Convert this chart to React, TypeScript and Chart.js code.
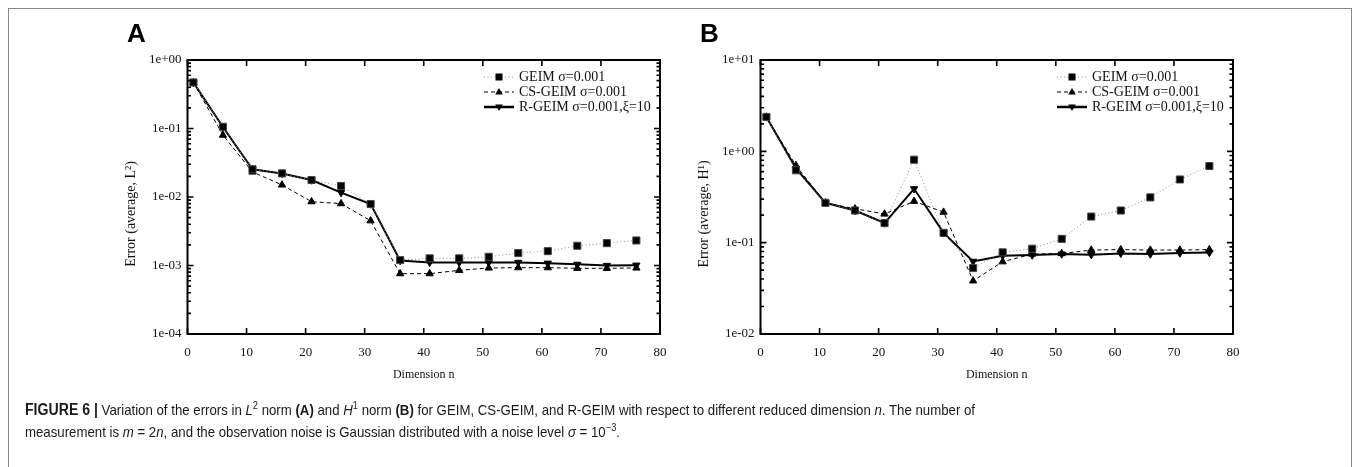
import React, { useEffect, useLayoutEffect, useRef } from 'react';
import { Chart, registerables } from 'chart.js';

Chart.register(...registerables);
Chart.defaults.font.family = "'Liberation Serif', 'Times New Roman', serif";

// ---------------- data ----------------
const nValues = [1, 6, 11, 16, 21, 26, 31, 36, 41, 46, 51, 56, 61, 66, 71, 76];

const geimL2 = [0.47, 0.106, 0.0254, 0.0221, 0.0177, 0.0145, 0.0079, 0.0012, 0.00127, 0.00127, 0.00134, 0.00152, 0.00162, 0.00194, 0.00212, 0.00232];
const csL2 = [0.47, 0.08, 0.0232, 0.015, 0.00855, 0.008, 0.0045, 0.00076, 0.00076, 0.00085, 0.00092, 0.00093, 0.00093, 0.00091, 0.00091, 0.00092];
const rL2 = [0.47, 0.105, 0.0254, 0.0221, 0.0177, 0.0116, 0.0079, 0.00118, 0.00111, 0.00111, 0.00111, 0.00111, 0.00108, 0.00104, 0.001, 0.00101];

const geimH1 = [2.38, 0.62, 0.273, 0.225, 0.164, 0.81, 0.128, 0.0527, 0.0783, 0.0859, 0.11, 0.193, 0.225, 0.313, 0.492, 0.69];
const csH1 = [2.38, 0.7, 0.273, 0.235, 0.206, 0.284, 0.216, 0.0382, 0.0618, 0.075, 0.076, 0.083, 0.084, 0.083, 0.083, 0.084];
const rH1 = [2.38, 0.65, 0.273, 0.225, 0.164, 0.389, 0.128, 0.0624, 0.072, 0.0731, 0.075, 0.0738, 0.0763, 0.075, 0.077, 0.078];

const seriesLabels = ['GEIM σ=0.001', 'CS-GEIM σ=0.001', 'R-GEIM σ=0.001,ξ=10'];
const xTitle = 'Dimension n';
const yTitleA = 'Error (average, L²)';
const yTitleB = 'Error (average, H¹)';
const xMin = 0;
const xMax = 80;
const xStep = 10;

// ---------------- helpers ----------------
const isPow10 = (v: number) => {
  const l = Math.log10(v);
  return Math.abs(l - Math.round(l)) < 1e-9;
};
const fmtPow = (v: number) => {
  const e = Math.round(Math.log10(v));
  const s = e < 0 ? '-' : '+';
  return `1e${s}${String(Math.abs(e)).padStart(2, '0')}`;
};

const styles = [
  { borderColor: '#8a8a8a', borderWidth: 1, borderDash: [1, 2.5], pointStyle: 'rect', pointRadius: 5, rotation: 0, pointBorderColor: '#444', pointBackgroundColor: '#000' },
  { borderColor: '#000', borderWidth: 1, borderDash: [4, 3], pointStyle: 'triangle', pointRadius: 4.2, rotation: 0, pointBorderColor: '#000', pointBackgroundColor: '#000' },
  { borderColor: '#000', borderWidth: 2, borderDash: [], pointStyle: 'triangle', pointRadius: 4.2, rotation: 180, pointBorderColor: '#000', pointBackgroundColor: '#000' },
];

function drawMarker(ctx: CanvasRenderingContext2D, kind: number, x: number, y: number) {
  ctx.beginPath();
  if (kind === 0) {
    ctx.rect(x - 3.5, y - 3.5, 7, 7);
  } else if (kind === 1) {
    ctx.moveTo(x, y - 4);
    ctx.lineTo(x + 3.8, y + 2.5);
    ctx.lineTo(x - 3.8, y + 2.5);
    ctx.closePath();
  } else {
    ctx.moveTo(x, y + 4);
    ctx.lineTo(x + 3.8, y - 2.5);
    ctx.lineTo(x - 3.8, y - 2.5);
    ctx.closePath();
  }
  ctx.fillStyle = '#000';
  ctx.fill();
}

const frameTicks = {
  id: 'frameTicks',
  afterDatasetsDraw(chart: any) {
    const { ctx, chartArea } = chart;
    const { left, right, top, bottom } = chartArea;
    const xs = chart.scales.x;
    const ys = chart.scales.y;
    ctx.save();
    ctx.strokeStyle = '#000';
    ctx.lineWidth = 1.6;
    ctx.setLineDash([]);
    ctx.beginPath();
    xs.ticks.forEach((t: any) => {
      const px = xs.getPixelForValue(t.value);
      ctx.moveTo(px, bottom);
      ctx.lineTo(px, bottom - 6);
      ctx.moveTo(px, top);
      ctx.lineTo(px, top + 6);
    });
    ys.ticks.forEach((t: any) => {
      const py = ys.getPixelForValue(t.value);
      const len = isPow10(t.value) ? 6 : 3.5;
      ctx.moveTo(left, py);
      ctx.lineTo(left + len, py);
      ctx.moveTo(right, py);
      ctx.lineTo(right - len, py);
    });
    ctx.stroke();
    ctx.lineWidth = 2;
    ctx.strokeRect(left, top, right - left, bottom - top);
    ctx.restore();
  },
  afterDraw(chart: any, _args: any, opts: any) {
    const { ctx, chartArea } = chart;
    const { left, right, top, bottom } = chartArea;
    const rows = [17, 32, 47];
    ctx.save();
    // y-axis title (drawn a bit below the axis centre, as in the figure)
    ctx.translate(left - 55.8, (top + bottom) / 2 + 17);
    ctx.rotate(-Math.PI / 2);
    ctx.fillStyle = '#111';
    ctx.font = "14px 'Liberation Serif', serif";
    ctx.textAlign = 'center';
    ctx.textBaseline = 'middle';
    ctx.fillText(opts.yTitle || '', 0, 0);
    ctx.restore();

    ctx.save();
    chart.data.datasets.forEach((ds: any, i: number) => {
      const st = styles[i];
      const y = top + rows[i];
      ctx.beginPath();
      ctx.strokeStyle = st.borderColor;
      ctx.lineWidth = i === 2 ? 2.5 : st.borderWidth;
      ctx.setLineDash(st.borderDash);
      ctx.moveTo(right - 176, y);
      ctx.lineTo(right - 146, y);
      ctx.stroke();
      ctx.setLineDash([]);
      drawMarker(ctx, i, right - 161, y);
      ctx.fillStyle = '#111';
      ctx.font = "14px 'Liberation Serif', serif";
      ctx.textBaseline = 'middle';
      ctx.textAlign = 'left';
      ctx.fillText(ds.label, right - 141, y + 0.5);
    });
    ctx.restore();
  },
};

function Panel({ left, yMin, yMax, series, yTitle }: { left: number; yMin: number; yMax: number; series: number[][]; yTitle: string }) {
  const ref = useRef<HTMLCanvasElement>(null);
  useEffect(() => {
    const chart = new Chart(ref.current as HTMLCanvasElement, {
      type: 'line',
      data: {
        datasets: series.map((vals, i) => ({
          label: seriesLabels[i],
          data: nValues.map((n, j) => ({ x: n, y: vals[j] })),
          borderColor: styles[i].borderColor,
          borderWidth: styles[i].borderWidth,
          borderDash: styles[i].borderDash,
          pointStyle: styles[i].pointStyle as any,
          pointRadius: styles[i].pointRadius,
          rotation: styles[i].rotation,
          pointBorderColor: styles[i].pointBorderColor,
          pointBackgroundColor: styles[i].pointBackgroundColor,
          pointBorderWidth: 1,
          fill: false,
          tension: 0,
        })),
      },
      options: {
        animation: false,
        responsive: false,
        devicePixelRatio: 1,
        events: [],
        layout: { padding: { top: 45, right: 25, left: 0, bottom: 0 } },
        plugins: { legend: { display: false }, tooltip: { enabled: false }, frameTicks: { yTitle } },
        scales: {
          x: {
            type: 'linear',
            min: xMin,
            max: xMax,
            grid: { display: false, drawTicks: false },
            border: { display: false },
            ticks: { stepSize: xStep, padding: 11, color: '#111', font: { size: 13 } },
            title: { display: true, text: xTitle, color: '#111', font: { size: 12 }, padding: { top: 0, bottom: 12.8 } },
            afterFit: (s: any) => { s.height = 61; },
          },
          y: {
            type: 'logarithmic',
            min: yMin,
            max: yMax,
            grid: { display: false, drawTicks: false },
            border: { display: false },
            afterBuildTicks: (s: any) => {
              const ticks: any[] = [];
              const e0 = Math.round(Math.log10(yMin));
              const e1 = Math.round(Math.log10(yMax));
              for (let e = e0; e <= e1; e++) {
                for (let m = 1; m <= 9; m++) {
                  if (e === e1 && m > 1) break;
                  const v = Number((m * Math.pow(10, e)).toPrecision(12));
                  ticks.push({ value: v, major: m === 1 });
                }
              }
              s.ticks = ticks;
            },
            ticks: {
              autoSkip: false,
              padding: 6,
              color: '#111',
              font: { size: 13 },
              callback: (v: any) => (isPow10(Number(v)) ? fmtPow(Number(v)) : ''),
            },
            title: { display: false },
            afterFit: (s: any) => { s.width = 92.5; },
          },
        },
      } as any,
      plugins: [frameTicks],
    });
    return () => chart.destroy();
  }, []);
  return (
    <canvas
      ref={ref}
      width={590}
      height={380}
      style={{ position: 'fixed', left, top: 15, width: 590, height: 380 }}
    />
  );
}

function Caption() {
  const wrap = useRef<HTMLDivElement>(null);
  const line1 = useRef<HTMLSpanElement>(null);
  useLayoutEffect(() => {
    if (!wrap.current || !line1.current) return;
    const w = line1.current.getBoundingClientRect().width;
    if (w > 0) wrap.current.style.transform = `scaleX(${950 / w})`;
  }, []);
  const sup: React.CSSProperties = { fontSize: '0.7em', verticalAlign: 'super', lineHeight: 0 };
  return (
    <div
      ref={wrap}
      style={{
        position: 'fixed',
        left: 25,
        top: 399,
        whiteSpace: 'nowrap',
        transformOrigin: 'left top',
        fontFamily: "'Liberation Sans Narrow', 'Arial Narrow', 'Liberation Sans', Arial, sans-serif",
        fontSize: 15,
        lineHeight: '22px',
        color: '#1a1a1a',
      }}
    >
      <span ref={line1} style={{ display: 'inline-block' }}>
        <b style={{ fontSize: 16 }}>FIGURE 6 |</b> Variation of the errors in <i>L</i>
        <span style={sup}>2</span> norm <b>(A)</b> and <i>H</i>
        <span style={sup}>1</span> norm <b>(B)</b> for GEIM, CS-GEIM, and R-GEIM with respect to different reduced dimension{' '}
        <i>n</i>. The number of
      </span>
      <br />
      <span style={{ display: 'inline-block' }}>
        measurement is <i>m</i> = 2<i>n</i>, and the observation noise is Gaussian distributed with a noise level <i>σ</i> = 10
        <span style={sup}>−3</span>.
      </span>
    </div>
  );
}

export default function App() {
  useEffect(() => {
    document.documentElement.style.overflow = 'hidden';
    document.body.style.overflow = 'hidden';
  }, []);
  const letter: React.CSSProperties = {
    position: 'fixed',
    top: 20,
    fontFamily: "'Liberation Sans', Arial, sans-serif",
    fontWeight: 'bold',
    fontSize: 26,
    lineHeight: 1,
    color: '#000',
  };
  return (
    <div>
      <div
        style={{
          position: 'fixed',
          left: 8,
          top: 8,
          width: 1344,
          height: 470,
          border: '1px solid #888',
          borderBottom: 'none',
          boxSizing: 'border-box',
        }}
      />
      <div style={{ ...letter, left: 127 }}>A</div>
      <div style={{ ...letter, left: 700 }}>B</div>
      <Panel left={95} yMin={1e-4} yMax={1} series={[geimL2, csL2, rL2]} yTitle={yTitleA} />
      <Panel left={668} yMin={1e-2} yMax={10} series={[geimH1, csH1, rH1]} yTitle={yTitleB} />
      <Caption />
    </div>
  );
}
